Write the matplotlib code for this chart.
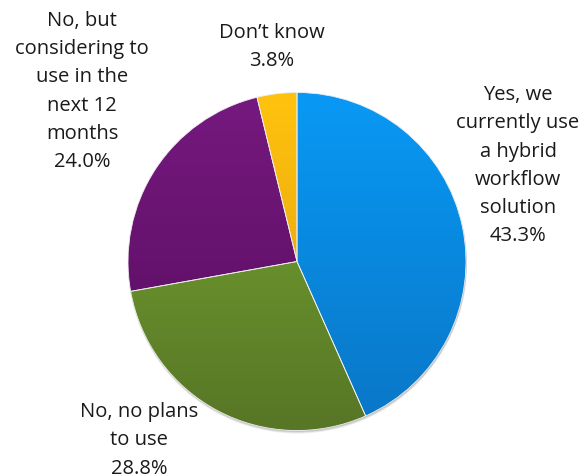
import matplotlib
matplotlib.use("Agg")
import matplotlib.pyplot as plt
import numpy as np
from matplotlib.colors import LinearSegmentedColormap
from matplotlib.patches import Circle

categories = ["Yes, we\ncurrently use\na hybrid\nworkflow\nsolution",
              "No, no plans\nto use",
              "No, but\nconsidering to\nuse in the\nnext 12\nmonths",
              "Don\u2019t know"]
values = [43.3, 28.8, 24.0, 3.8]

top_colors = ["#0899f5", "#78a832", "#76197f", "#ffc30f"]
bottom_colors = ["#0a76c6", "#577626", "#560c5e", "#dc9a0e"]

W, H = 584, 476
fig = plt.figure(figsize=(W / 100, H / 100), dpi=100)
ax = fig.add_axes([0, 0, 1, 1])

cx, cy, r = 297, H - 261.5, 169
# soft shadow
for k, a in enumerate([0.10, 0.10, 0.08]):
    ax.add_patch(Circle((cx + 0.5, cy - 1.0 - k * 0.7), r + 0.3 * k,
                        facecolor="black", edgecolor="none", alpha=a, zorder=0))

wedges, _ = ax.pie(values, startangle=90, counterclock=False,
                   center=(cx, cy), radius=r, frame=True)

grad = np.linspace(0, 1, 256).reshape(-1, 1)
for w, tc, bc in zip(wedges, top_colors, bottom_colors):
    cmap = LinearSegmentedColormap.from_list("g", [tc, bc])
    im = ax.imshow(grad, cmap=cmap, extent=[cx - r, cx + r, cy - r, cy + r],
                   origin="upper", aspect="auto", zorder=1, interpolation="bicubic")
    im.set_clip_path(w)
    w.set_facecolor("none")
    w.set_edgecolor("#eeeeee")
    w.set_linewidth(0.6)
    w.set_zorder(2)

label_pos = [(518, 85), (139, 402), (82, 11), (272, 23)]
for lab, v, (x, y) in zip(categories, values, label_pos):
    ax.text(x, H - y, f"{lab}\n{v:.1f}%", ha="center", va="top",
            multialignment="center", fontsize=14.5, color="#1a1a1a",
            family="Open Sans", linespacing=1.55)

ax.set_xlim(0, W)
ax.set_ylim(0, H)
ax.set_aspect("auto")
ax.axis("off")
fig.savefig("out.png", dpi=100)
